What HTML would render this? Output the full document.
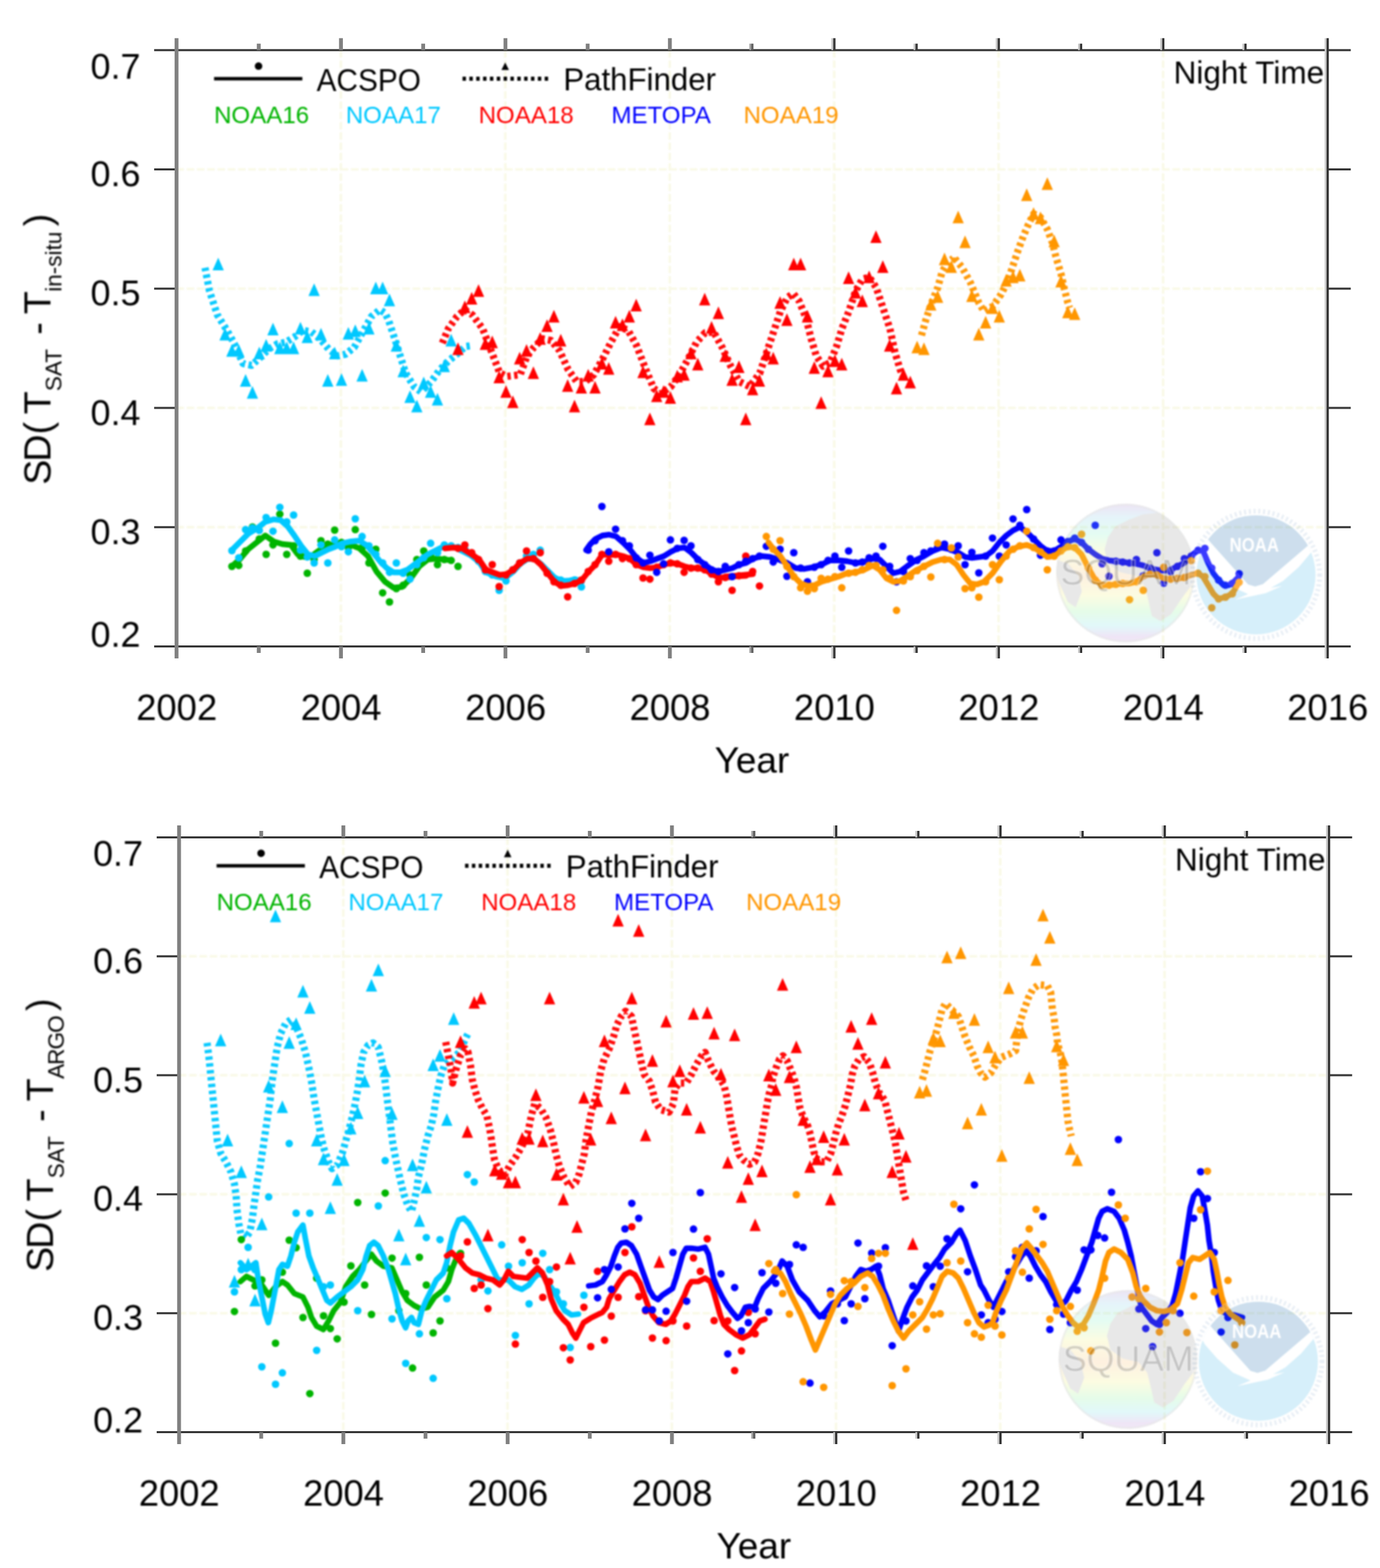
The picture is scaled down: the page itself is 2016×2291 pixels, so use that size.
<!DOCTYPE html>
<html lang="en">
<head>
<meta charset="utf-8">
<title>SD( T SAT - T in-situ ) Night Time: ACSPO vs PathFinder</title>
<style>
html,body{margin:0;padding:0;background:#fff;}
body{width:2016px;height:2291px;overflow:hidden;}
svg{display:block;}
</style>
</head>
<body>
<svg width="2016" height="2291" viewBox="0 0 2016 2291">
<defs><filter id="soft" x="0" y="0" width="100%" height="100%" filterUnits="userSpaceOnUse" color-interpolation-filters="sRGB"><feGaussianBlur stdDeviation="1.1"/></filter><filter id="soft2" x="0" y="0" width="100%" height="100%" filterUnits="userSpaceOnUse" color-interpolation-filters="sRGB"><feGaussianBlur stdDeviation="0.45"/></filter></defs>
<rect width="2016" height="2291" fill="#fff"/>
<g filter="url(#soft)">
<path d="M497.9 73.3 V944.4 M738.2 73.3 V944.4 M978.4 73.3 V944.4 M1218.6 73.3 V944.4 M1458.8 73.3 V944.4 M1699.1 73.3 V944.4 M257.7 247.5 H1939.3 M257.7 421.7 H1939.3 M257.7 596 H1939.3 M257.7 770.2 H1939.3" fill="none" stroke="#f9f9e6" stroke-width="3.6" stroke-dasharray="11 4"/>
<g fill="none" stroke-linejoin="round" stroke-linecap="butt">
<path d="M299.5 391.2 L306 425 L317.5 460 L331.5 482.5 L342.5 502.5 L355 531.2 L367.5 533.8 L380 522.5 L392.5 510 L405 502.5 L417.5 500 L430 492.5 L442.5 482.5 L455 485 L467.5 495 L480 510 L492.5 520 L505 517.5 L517.5 507.5 L530 485 L542.5 462.5 L555 452.5 L562.5 457.5 L567.5 467.5 L580 505 L592.5 545 L605 565 L615 572.5 L630 557.5 L642.5 540 L655 527.5 L667.5 517.5 L680 506.2 L688.8 505" stroke="#00c8ff" stroke-width="10.5" stroke-dasharray="5 5" stroke-opacity="0.96"/>
<path d="M646.2 501.2 L655 480 L667.5 462.5 L678.8 452.5 L690 460 L705 480 L717.5 512.5 L730 545 L740 550 L760 547.5 L770 520 L780 507.5 L792.5 495 L805 497.5 L817.5 512.5 L830 540 L842.5 557.5 L855 557.5 L867.5 547.5 L880 525 L892.5 500 L905 477.5 L917.5 482.5 L930 505 L942.5 537.5 L955 567.5 L965 575 L980 565 L992.5 547.5 L1005 525 L1017.5 500 L1030 486.2 L1042.5 485 L1055 507.5 L1067.5 535 L1080 557.5 L1095 565 L1110 545 L1120 515 L1130 485 L1140 455 L1150 435 L1158.8 428.8 L1167.5 440 L1177.5 465 L1185 495 L1192.5 520 L1202.5 535 L1212.5 530 L1222.5 505 L1230 480 L1240 455 L1250 425 L1260 407.5 L1270 405 L1280 420 L1290 450 L1300 480 L1307.5 515 L1315 540 L1321.2 555" stroke="#ff0000" stroke-width="10.5" stroke-dasharray="5 5" stroke-opacity="0.96"/>
<path d="M1346.2 490 L1352.5 467.5 L1360 445 L1370 420 L1376.2 397.5 L1385 382.5 L1392.5 377.5 L1392.5 375 L1405 390 L1417.5 412.5 L1430 442.5 L1437.5 455 L1450 447.5 L1462.5 430 L1472.5 410 L1480 387.5 L1487.5 365 L1495 345 L1502.5 327.5 L1510 312.5 L1520 317.5 L1530 335 L1537.5 355 L1542.5 375 L1550 400 L1555 422.5 L1560 442.5 L1562.5 450" stroke="#ff9600" stroke-width="10.5" stroke-dasharray="5 5" stroke-opacity="0.96"/>
</g>
<path d="M318.8 376.5 l8.2 18.5 h-16.5 z M328.8 479 l8.2 18.5 h-16.5 z M338.8 502.8 l8.2 18.5 h-16.5 z M348.8 502.8 l8.2 18.5 h-16.5 z M358.8 546.5 l8.2 18.5 h-16.5 z M368.8 564 l8.2 18.5 h-16.5 z M378.8 506.5 l8.2 18.5 h-16.5 z M388.8 495.2 l8.2 18.5 h-16.5 z M398.8 471.5 l8.2 18.5 h-16.5 z M408.8 499 l8.2 18.5 h-16.5 z M418.9 499 l8.2 18.5 h-16.5 z M428.9 499 l8.2 18.5 h-16.5 z M438.9 470.2 l8.2 18.5 h-16.5 z M448.9 482.8 l8.2 18.5 h-16.5 z M458.9 414 l8.2 18.5 h-16.5 z M468.9 479 l8.2 18.5 h-16.5 z M478.9 546.5 l8.2 18.5 h-16.5 z M488.9 506.5 l8.2 18.5 h-16.5 z M498.9 545.2 l8.2 18.5 h-16.5 z M508.9 477.8 l8.2 18.5 h-16.5 z M519 474 l8.2 18.5 h-16.5 z M529 539 l8.2 18.5 h-16.5 z M539 470.2 l8.2 18.5 h-16.5 z M549 411.5 l8.2 18.5 h-16.5 z M559 411.5 l8.2 18.5 h-16.5 z M569 429 l8.2 18.5 h-16.5 z M579 495.2 l8.2 18.5 h-16.5 z M589 532.8 l8.2 18.5 h-16.5 z M599 570.2 l8.2 18.5 h-16.5 z M609 584 l8.2 18.5 h-16.5 z M619 550.2 l8.2 18.5 h-16.5 z M629.1 562.8 l8.2 18.5 h-16.5 z M639.1 574 l8.2 18.5 h-16.5 z M649.1 525.2 l8.2 18.5 h-16.5 z M659.1 487.8 l8.2 18.5 h-16.5 z" fill="#00c8ff"/>
<path d="M669.1 500.2 l8.2 18.5 h-16.5 z M679.1 439 l8.2 18.5 h-16.5 z M689.1 426.5 l8.2 18.5 h-16.5 z M699.1 415.2 l8.2 18.5 h-16.5 z M709.1 492.8 l8.2 18.5 h-16.5 z M719.1 490.2 l8.2 18.5 h-16.5 z M729.2 541.5 l8.2 18.5 h-16.5 z M739.2 562.8 l8.2 18.5 h-16.5 z M749.2 577.8 l8.2 18.5 h-16.5 z M759.2 514 l8.2 18.5 h-16.5 z M769.2 502.8 l8.2 18.5 h-16.5 z M779.2 535.2 l8.2 18.5 h-16.5 z M789.2 485.2 l8.2 18.5 h-16.5 z M799.2 466.5 l8.2 18.5 h-16.5 z M809.2 452.8 l8.2 18.5 h-16.5 z M819.2 487.8 l8.2 18.5 h-16.5 z M829.3 554 l8.2 18.5 h-16.5 z M839.3 584 l8.2 18.5 h-16.5 z M849.3 556.5 l8.2 18.5 h-16.5 z M859.3 539 l8.2 18.5 h-16.5 z M869.3 556.5 l8.2 18.5 h-16.5 z M879.3 521.5 l8.2 18.5 h-16.5 z M889.3 529 l8.2 18.5 h-16.5 z M899.3 461.5 l8.2 18.5 h-16.5 z M909.3 465.2 l8.2 18.5 h-16.5 z M919.4 452.8 l8.2 18.5 h-16.5 z M929.4 436.5 l8.2 18.5 h-16.5 z M939.4 534 l8.2 18.5 h-16.5 z M949.4 602.8 l8.2 18.5 h-16.5 z M959.4 569 l8.2 18.5 h-16.5 z M969.4 562.8 l8.2 18.5 h-16.5 z M979.4 571.5 l8.2 18.5 h-16.5 z M989.4 540.2 l8.2 18.5 h-16.5 z M999.4 537.8 l8.2 18.5 h-16.5 z M1009.4 506.5 l8.2 18.5 h-16.5 z M1019.4 522.8 l8.2 18.5 h-16.5 z M1029.5 427.8 l8.2 18.5 h-16.5 z M1039.5 469 l8.2 18.5 h-16.5 z M1049.5 447.8 l8.2 18.5 h-16.5 z M1059.5 510.2 l8.2 18.5 h-16.5 z M1069.5 545.2 l8.2 18.5 h-16.5 z M1079.5 526.5 l8.2 18.5 h-16.5 z M1089.5 602.8 l8.2 18.5 h-16.5 z M1099.5 559 l8.2 18.5 h-16.5 z M1109.5 546.5 l8.2 18.5 h-16.5 z M1119.5 507.8 l8.2 18.5 h-16.5 z M1129.6 514 l8.2 18.5 h-16.5 z M1139.6 432.8 l8.2 18.5 h-16.5 z M1149.6 457.8 l8.2 18.5 h-16.5 z M1159.6 376.5 l8.2 18.5 h-16.5 z M1169.6 376.5 l8.2 18.5 h-16.5 z M1179.6 452.8 l8.2 18.5 h-16.5 z M1189.6 527.8 l8.2 18.5 h-16.5 z M1199.6 579 l8.2 18.5 h-16.5 z M1209.6 532.8 l8.2 18.5 h-16.5 z M1219.7 517.8 l8.2 18.5 h-16.5 z M1229.7 522.8 l8.2 18.5 h-16.5 z M1239.7 396.5 l8.2 18.5 h-16.5 z M1249.7 417.8 l8.2 18.5 h-16.5 z M1259.7 430.2 l8.2 18.5 h-16.5 z M1269.7 395.2 l8.2 18.5 h-16.5 z M1279.7 336.5 l8.2 18.5 h-16.5 z M1289.7 380.2 l8.2 18.5 h-16.5 z M1299.7 495.2 l8.2 18.5 h-16.5 z M1309.7 557.8 l8.2 18.5 h-16.5 z M1319.8 537.8 l8.2 18.5 h-16.5 z M1329.8 549 l8.2 18.5 h-16.5 z" fill="#ff0000"/>
<path d="M1339.8 497.8 l8.2 18.5 h-16.5 z M1349.8 500.2 l8.2 18.5 h-16.5 z M1359.8 435.2 l8.2 18.5 h-16.5 z M1369.8 424 l8.2 18.5 h-16.5 z M1379.8 369 l8.2 18.5 h-16.5 z M1389.8 380.2 l8.2 18.5 h-16.5 z M1399.8 307.8 l8.2 18.5 h-16.5 z M1409.8 344 l8.2 18.5 h-16.5 z M1419.8 422.8 l8.2 18.5 h-16.5 z M1429.9 479 l8.2 18.5 h-16.5 z M1439.9 461.5 l8.2 18.5 h-16.5 z M1449.9 440.2 l8.2 18.5 h-16.5 z M1459.9 452.8 l8.2 18.5 h-16.5 z M1469.9 400.2 l8.2 18.5 h-16.5 z M1479.9 395.2 l8.2 18.5 h-16.5 z M1489.9 392.8 l8.2 18.5 h-16.5 z M1499.9 275.2 l8.2 18.5 h-16.5 z M1509.9 302.8 l8.2 18.5 h-16.5 z M1520 309 l8.2 18.5 h-16.5 z M1530 259 l8.2 18.5 h-16.5 z M1540 342.8 l8.2 18.5 h-16.5 z M1550 401.5 l8.2 18.5 h-16.5 z M1560 446.5 l8.2 18.5 h-16.5 z M1570 449 l8.2 18.5 h-16.5 z" fill="#ff9600"/>
<path d="M338.8 827.5 L350 817.5 L362.5 802.5 L375 792.5 L387.5 782.5 L400 791.2 L412.5 795 L425 796.2 L435 810 L445 813.8 L455 812.5 L465 805 L475 798.8 L487.5 795 L500 793.8 L512.5 796.2 L525 801.2 L537.5 812.5 L550 835 L562.5 850 L575 858.8 L587.5 857.5 L600 845 L612.5 827.5 L625 817.5 L637.5 816.2 L650 817.5 L660 818.8" fill="none" stroke="#00b400" stroke-width="8.4" stroke-linejoin="round" stroke-linecap="round"/>
<g fill="#00b400"><circle cx="338.8" cy="827.5" r="5.5"/><circle cx="348.8" cy="826.2" r="5.5"/><circle cx="358.8" cy="805" r="5.5"/><circle cx="368.8" cy="770" r="5.5"/><circle cx="378.8" cy="787.5" r="5.5"/><circle cx="388.8" cy="810" r="5.5"/><circle cx="398.8" cy="796.2" r="5.5"/><circle cx="408.8" cy="751.2" r="5.5"/><circle cx="418.9" cy="810" r="5.5"/><circle cx="428.9" cy="797.5" r="5.5"/><circle cx="438.9" cy="812.5" r="5.5"/><circle cx="448.9" cy="837.5" r="5.5"/><circle cx="458.9" cy="817.5" r="5.5"/><circle cx="468.9" cy="790" r="5.5"/><circle cx="478.9" cy="795" r="5.5"/><circle cx="488.9" cy="774.5" r="5.5"/><circle cx="498.9" cy="792.5" r="5.5"/><circle cx="508.9" cy="800" r="5.5"/><circle cx="519" cy="773.8" r="5.5"/><circle cx="529" cy="800" r="5.5"/><circle cx="539" cy="822.5" r="5.5"/><circle cx="549" cy="802.5" r="5.5"/><circle cx="559" cy="866.2" r="5.5"/><circle cx="569" cy="879.5" r="5.5"/><circle cx="579" cy="860" r="5.5"/><circle cx="589" cy="855" r="5.5"/><circle cx="599" cy="840" r="5.5"/><circle cx="609" cy="817.5" r="5.5"/><circle cx="619" cy="805" r="5.5"/><circle cx="629.1" cy="812.5" r="5.5"/><circle cx="639.1" cy="825" r="5.5"/><circle cx="649.1" cy="817.5" r="5.5"/><circle cx="659.1" cy="818.8" r="5.5"/><circle cx="669.1" cy="827.5" r="5.5"/></g>
<path d="M340 802.5 L350 792.5 L362.5 780 L375 772.5 L387.5 762.5 L400 758.8 L410 760 L420 768.8 L430 782.5 L440 797.5 L450 810 L460 812.5 L470 807.5 L480 802.5 L490 798.8 L500 793.8 L512.5 791.2 L525 790 L535 796.2 L545 807.5 L555 820 L565 830 L575 836.2 L585 836.2 L595 832.5 L605 825 L615 817.5 L625 810 L635 805 L645 800 L655 798.8 L665 800 L675 805 L687.5 811.2 L700 821.2 L710 836.2 L725 842.5 L737.5 845 L750 835 L760 823.8 L770 817 L780 816.2 L790 823.8 L800 833.8 L810 843.8 L820 848.8 L830 848.8 L840 846.2 L850 850" fill="none" stroke="#00c8ff" stroke-width="8.4" stroke-linejoin="round" stroke-linecap="round"/>
<g fill="#00c8ff"><circle cx="338.8" cy="804.5" r="5.5"/><circle cx="348.8" cy="815" r="5.5"/><circle cx="358.8" cy="773.8" r="5.5"/><circle cx="368.8" cy="771.2" r="5.5"/><circle cx="378.8" cy="775" r="5.5"/><circle cx="388.8" cy="756.2" r="5.5"/><circle cx="398.8" cy="776.2" r="5.5"/><circle cx="408.8" cy="741.2" r="5.5"/><circle cx="418.9" cy="762.5" r="5.5"/><circle cx="428.9" cy="752.5" r="5.5"/><circle cx="438.9" cy="803.8" r="5.5"/><circle cx="448.9" cy="813.8" r="5.5"/><circle cx="458.9" cy="822.5" r="5.5"/><circle cx="468.9" cy="796.2" r="5.5"/><circle cx="478.9" cy="822.5" r="5.5"/><circle cx="488.9" cy="788.8" r="5.5"/><circle cx="498.9" cy="798.8" r="5.5"/><circle cx="508.9" cy="806.2" r="5.5"/><circle cx="519" cy="758" r="5.5"/><circle cx="529" cy="783.8" r="5.5"/><circle cx="539" cy="797.5" r="5.5"/><circle cx="549" cy="810" r="5.5"/><circle cx="559" cy="822.5" r="5.5"/><circle cx="569" cy="836.2" r="5.5"/><circle cx="579" cy="822.5" r="5.5"/><circle cx="589" cy="837.5" r="5.5"/><circle cx="599" cy="846.2" r="5.5"/><circle cx="609" cy="825" r="5.5"/><circle cx="619" cy="815" r="5.5"/><circle cx="629.1" cy="793.8" r="5.5"/><circle cx="639.1" cy="807.5" r="5.5"/><circle cx="649.1" cy="796.2" r="5.5"/><circle cx="659.1" cy="797.5" r="5.5"/><circle cx="669.1" cy="800" r="5.5"/><circle cx="679.1" cy="802.5" r="5.5"/><circle cx="689.1" cy="810" r="5.5"/><circle cx="699.1" cy="820" r="5.5"/><circle cx="709.1" cy="835" r="5.5"/><circle cx="719.1" cy="840" r="5.5"/><circle cx="729.2" cy="862.5" r="5.5"/><circle cx="739.2" cy="848.8" r="5.5"/><circle cx="749.2" cy="832.5" r="5.5"/><circle cx="759.2" cy="822.5" r="5.5"/><circle cx="769.2" cy="812.5" r="5.5"/><circle cx="779.2" cy="810" r="5.5"/><circle cx="789.2" cy="803.8" r="5.5"/><circle cx="799.2" cy="835" r="5.5"/><circle cx="809.2" cy="845" r="5.5"/><circle cx="819.2" cy="847.5" r="5.5"/><circle cx="829.3" cy="850" r="5.5"/><circle cx="839.3" cy="847.5" r="5.5"/><circle cx="849.3" cy="857.5" r="5.5"/></g>
<path d="M650 801.2 L662.5 800 L675 801.2 L687.5 808.8 L700 817.5 L710 832.5 L720 836.2 L730 840 L740 838.8 L750 832.5 L760 822.5 L770 816.2 L780 816.2 L790 825 L800 837.5 L810 850 L820 856.2 L830 855 L840 852.5 L850 847.5 L860 835 L870 825 L880 810 L890 811.2 L900 810 L910 812.5 L920 816.2 L930 825 L940 828.8 L950 830 L960 828.8 L970 825 L980 822.5 L990 823.8 L1000 827.5 L1010 830 L1020 830 L1030 832.5 L1040 838.8 L1050 843.8 L1060 843.8 L1070 842.5 L1080 841.2 L1090 841.2 L1060 842.5 L1075 841.2 L1087.5 840 L1100 838.8" fill="none" stroke="#ff0000" stroke-width="8.4" stroke-linejoin="round" stroke-linecap="round"/>
<g fill="#ff0000"><circle cx="669.1" cy="801.2" r="5.5"/><circle cx="679.1" cy="796.2" r="5.5"/><circle cx="689.1" cy="807.5" r="5.5"/><circle cx="699.1" cy="817.5" r="5.5"/><circle cx="709.1" cy="832.5" r="5.5"/><circle cx="719.1" cy="825" r="5.5"/><circle cx="729.2" cy="857" r="5.5"/><circle cx="739.2" cy="840" r="5.5"/><circle cx="749.2" cy="832.5" r="5.5"/><circle cx="759.2" cy="822.5" r="5.5"/><circle cx="769.2" cy="805" r="5.5"/><circle cx="779.2" cy="816.2" r="5.5"/><circle cx="789.2" cy="807.5" r="5.5"/><circle cx="799.2" cy="837.5" r="5.5"/><circle cx="809.2" cy="850" r="5.5"/><circle cx="819.2" cy="855" r="5.5"/><circle cx="829.3" cy="872" r="5.5"/><circle cx="839.3" cy="852.5" r="5.5"/><circle cx="849.3" cy="847.5" r="5.5"/><circle cx="859.3" cy="835" r="5.5"/><circle cx="869.3" cy="825" r="5.5"/><circle cx="879.3" cy="810" r="5.5"/><circle cx="889.3" cy="820" r="5.5"/><circle cx="899.3" cy="810" r="5.5"/><circle cx="909.3" cy="816.2" r="5.5"/><circle cx="919.4" cy="816.2" r="5.5"/><circle cx="929.4" cy="825" r="5.5"/><circle cx="939.4" cy="844.5" r="5.5"/><circle cx="949.4" cy="846.2" r="5.5"/><circle cx="959.4" cy="828.8" r="5.5"/><circle cx="969.4" cy="825" r="5.5"/><circle cx="979.4" cy="822.5" r="5.5"/><circle cx="989.4" cy="823.8" r="5.5"/><circle cx="999.4" cy="836.2" r="5.5"/><circle cx="1009.4" cy="830" r="5.5"/><circle cx="1019.4" cy="830" r="5.5"/><circle cx="1029.5" cy="832.5" r="5.5"/><circle cx="1039.5" cy="838.8" r="5.5"/><circle cx="1049.5" cy="850" r="5.5"/><circle cx="1059.5" cy="843.8" r="5.5"/><circle cx="1069.5" cy="862.5" r="5.5"/><circle cx="1079.5" cy="841.2" r="5.5"/><circle cx="1089.5" cy="812.5" r="5.5"/><circle cx="1099.5" cy="835" r="5.5"/><circle cx="1109.5" cy="856.2" r="5.5"/></g>
<path d="M856.2 803.8 L862.5 795 L870 787.5 L880 782.5 L890 781.2 L900 783.8 L910 792.5 L920 802.5 L930 815 L940 822.5 L950 820 L960 816.2 L970 812.5 L980 806.2 L990 801.2 L1000 800 L1010 807.5 L1020 817.5 L1030 825 L1040 832.5 L1050 835 L1060 832.5 L1070 830 L1080 825 L1090 822.5 L1100 816.2 L1112.5 812.5 L1125 813.8 L1137.5 817.5 L1150 822.5 L1162.5 830 L1175 831.2 L1187.5 828.8 L1200 825 L1212.5 818.8 L1225 818.8 L1237.5 820 L1250 822.5 L1262.5 821.2 L1275 816.2 L1285 817.5 L1295 827.5 L1305 837.5 L1315 835 L1325 827.5 L1337.5 818.8 L1350 812.5 L1362.5 805 L1375 800 L1387.5 802.5 L1400 807.5 L1410 813.8 L1420 815 L1430 813.8 L1440 812.5 L1450 805 L1460 792.5 L1470 782.5 L1480 775 L1490 770 L1500 777.5 L1510 787.5 L1520 797.5 L1530 805 L1540 805 L1550 798.8 L1560 791.2 L1570 787.5 L1580 792.5 L1590 802.5 L1600 810 L1610 816.2 L1620 818.8 L1630 820 L1640 821.2 L1650 822.5 L1660 823.8 L1670 826.2 L1680 830 L1690 832.5 L1700 833.8 L1710 832.5 L1720 827.5 L1730 822.5 L1740 812.5 L1750 803.8 L1757.5 805 L1765 822.5 L1772.5 837.5 L1780 847.5 L1787.5 855 L1795 855 L1802.5 850 L1810 842.5" fill="none" stroke="#0000ff" stroke-width="8.4" stroke-linejoin="round" stroke-linecap="round"/>
<g fill="#0000ff"><circle cx="859.3" cy="803.8" r="5.5"/><circle cx="869.3" cy="790" r="5.5"/><circle cx="879.3" cy="740" r="5.5"/><circle cx="889.3" cy="806.2" r="5.5"/><circle cx="899.3" cy="773.2" r="5.5"/><circle cx="909.3" cy="790" r="5.5"/><circle cx="919.4" cy="797.5" r="5.5"/><circle cx="929.4" cy="815" r="5.5"/><circle cx="939.4" cy="822.5" r="5.5"/><circle cx="949.4" cy="811.2" r="5.5"/><circle cx="959.4" cy="836.2" r="5.5"/><circle cx="969.4" cy="823.8" r="5.5"/><circle cx="979.4" cy="788.8" r="5.5"/><circle cx="989.4" cy="801.2" r="5.5"/><circle cx="999.4" cy="789.5" r="5.5"/><circle cx="1009.4" cy="797.5" r="5.5"/><circle cx="1019.4" cy="817.5" r="5.5"/><circle cx="1029.5" cy="825" r="5.5"/><circle cx="1039.5" cy="832.5" r="5.5"/><circle cx="1049.5" cy="835" r="5.5"/><circle cx="1059.5" cy="827.5" r="5.5"/><circle cx="1069.5" cy="842.5" r="5.5"/><circle cx="1079.5" cy="825" r="5.5"/><circle cx="1089.5" cy="820" r="5.5"/><circle cx="1099.5" cy="816.2" r="5.5"/><circle cx="1109.5" cy="812.5" r="5.5"/><circle cx="1119.5" cy="798.2" r="5.5"/><circle cx="1129.6" cy="821.2" r="5.5"/><circle cx="1139.6" cy="802.5" r="5.5"/><circle cx="1149.6" cy="842" r="5.5"/><circle cx="1159.6" cy="807.5" r="5.5"/><circle cx="1169.6" cy="830" r="5.5"/><circle cx="1179.6" cy="850" r="5.5"/><circle cx="1189.6" cy="828.8" r="5.5"/><circle cx="1199.6" cy="825" r="5.5"/><circle cx="1209.6" cy="818.8" r="5.5"/><circle cx="1219.7" cy="812.5" r="5.5"/><circle cx="1229.7" cy="828.8" r="5.5"/><circle cx="1239.7" cy="805" r="5.5"/><circle cx="1249.7" cy="822.5" r="5.5"/><circle cx="1259.7" cy="821.2" r="5.5"/><circle cx="1269.7" cy="815" r="5.5"/><circle cx="1279.7" cy="812.5" r="5.5"/><circle cx="1289.7" cy="798.2" r="5.5"/><circle cx="1299.7" cy="827.5" r="5.5"/><circle cx="1309.7" cy="850" r="5.5"/><circle cx="1319.8" cy="835" r="5.5"/><circle cx="1329.8" cy="816.2" r="5.5"/><circle cx="1339.8" cy="818.8" r="5.5"/><circle cx="1349.8" cy="807.5" r="5.5"/><circle cx="1359.8" cy="805" r="5.5"/><circle cx="1369.8" cy="800" r="5.5"/><circle cx="1379.8" cy="795" r="5.5"/><circle cx="1389.8" cy="802.5" r="5.5"/><circle cx="1399.8" cy="797.5" r="5.5"/><circle cx="1409.8" cy="825" r="5.5"/><circle cx="1419.8" cy="807" r="5.5"/><circle cx="1429.9" cy="837" r="5.5"/><circle cx="1439.9" cy="812.5" r="5.5"/><circle cx="1449.9" cy="786.2" r="5.5"/><circle cx="1459.9" cy="812.5" r="5.5"/><circle cx="1469.9" cy="796.2" r="5.5"/><circle cx="1479.9" cy="758.2" r="5.5"/><circle cx="1489.9" cy="767.5" r="5.5"/><circle cx="1499.9" cy="744.5" r="5.5"/><circle cx="1509.9" cy="787.5" r="5.5"/><circle cx="1520" cy="811.2" r="5.5"/><circle cx="1530" cy="805" r="5.5"/><circle cx="1540" cy="805" r="5.5"/><circle cx="1550" cy="788.8" r="5.5"/><circle cx="1560" cy="791.2" r="5.5"/><circle cx="1570" cy="786.2" r="5.5"/><circle cx="1580" cy="792.5" r="5.5"/><circle cx="1590" cy="802.5" r="5.5"/><circle cx="1600" cy="767.5" r="5.5"/><circle cx="1610" cy="823.8" r="5.5"/><circle cx="1620" cy="842" r="5.5"/><circle cx="1630.1" cy="820" r="5.5"/><circle cx="1640.1" cy="821.2" r="5.5"/><circle cx="1650.1" cy="822.5" r="5.5"/><circle cx="1660.1" cy="817.5" r="5.5"/><circle cx="1670.1" cy="841.2" r="5.5"/><circle cx="1680.1" cy="830" r="5.5"/><circle cx="1690.1" cy="807.5" r="5.5"/><circle cx="1700.1" cy="852" r="5.5"/><circle cx="1710.1" cy="835" r="5.5"/><circle cx="1720.1" cy="827.5" r="5.5"/><circle cx="1730.2" cy="816.2" r="5.5"/><circle cx="1740.2" cy="812.5" r="5.5"/><circle cx="1750.2" cy="803.8" r="5.5"/><circle cx="1760.2" cy="801.2" r="5.5"/><circle cx="1770.2" cy="830" r="5.5"/><circle cx="1780.2" cy="847.5" r="5.5"/><circle cx="1790.2" cy="855" r="5.5"/><circle cx="1800.2" cy="852.5" r="5.5"/><circle cx="1810.2" cy="838.2" r="5.5"/></g>
<path d="M1122.5 792.5 L1130 802.5 L1140 812.5 L1150 827.5 L1160 842.5 L1170 852.5 L1180 856.2 L1190 855 L1200 850 L1212.5 846.2 L1225 842.5 L1237.5 837.5 L1250 836.2 L1262.5 832.5 L1275 826.2 L1285 832.5 L1295 845 L1305 850 L1315 848.8 L1325 842.5 L1337.5 833.8 L1350 827.5 L1362.5 821.2 L1375 817.5 L1387.5 817.5 L1397.5 825 L1407.5 840 L1417.5 852.5 L1427.5 853.8 L1437.5 850 L1450 837.5 L1462.5 820 L1475 805 L1487.5 798.8 L1500 796.2 L1510 800 L1520 806.2 L1530 813.8 L1540 812.5 L1550 805 L1560 798.8 L1570 800 L1580 810 L1590 830 L1600 847.5 L1610 855 L1620 855 L1630 853.8 L1640 852.5 L1650 852.5 L1660 850 L1670 842.5 L1680 838.8 L1690 840 L1700 845 L1710 846.2 L1720 845 L1730 843.8 L1740 840 L1750 837.5 L1757.5 842.5 L1765 855 L1772.5 867.5 L1780 875 L1790 872.5 L1800 867.5 L1807.5 855" fill="none" stroke="#ff9600" stroke-width="8.4" stroke-linejoin="round" stroke-linecap="round"/>
<g fill="#ff9600"><circle cx="1119.5" cy="783.8" r="5.5"/><circle cx="1129.6" cy="802.5" r="5.5"/><circle cx="1139.6" cy="790" r="5.5"/><circle cx="1149.6" cy="827.5" r="5.5"/><circle cx="1159.6" cy="842.5" r="5.5"/><circle cx="1169.6" cy="858.8" r="5.5"/><circle cx="1179.6" cy="863.8" r="5.5"/><circle cx="1189.6" cy="860" r="5.5"/><circle cx="1199.6" cy="845" r="5.5"/><circle cx="1209.6" cy="846.2" r="5.5"/><circle cx="1219.7" cy="842.5" r="5.5"/><circle cx="1229.7" cy="858.8" r="5.5"/><circle cx="1239.7" cy="837.5" r="5.5"/><circle cx="1249.7" cy="836.2" r="5.5"/><circle cx="1259.7" cy="832.5" r="5.5"/><circle cx="1269.7" cy="826.2" r="5.5"/><circle cx="1279.7" cy="826.2" r="5.5"/><circle cx="1289.7" cy="832.5" r="5.5"/><circle cx="1299.7" cy="845" r="5.5"/><circle cx="1309.7" cy="891.8" r="5.5"/><circle cx="1319.8" cy="848.8" r="5.5"/><circle cx="1329.8" cy="842.5" r="5.5"/><circle cx="1339.8" cy="833.8" r="5.5"/><circle cx="1349.8" cy="827.5" r="5.5"/><circle cx="1359.8" cy="843" r="5.5"/><circle cx="1369.8" cy="793.8" r="5.5"/><circle cx="1379.8" cy="817.5" r="5.5"/><circle cx="1389.8" cy="800.5" r="5.5"/><circle cx="1399.8" cy="813.8" r="5.5"/><circle cx="1409.8" cy="860" r="5.5"/><circle cx="1419.8" cy="858.8" r="5.5"/><circle cx="1429.9" cy="872.5" r="5.5"/><circle cx="1439.9" cy="850" r="5.5"/><circle cx="1449.9" cy="825" r="5.5"/><circle cx="1459.9" cy="847" r="5.5"/><circle cx="1469.9" cy="812.5" r="5.5"/><circle cx="1479.9" cy="802.5" r="5.5"/><circle cx="1489.9" cy="797.5" r="5.5"/><circle cx="1499.9" cy="776.2" r="5.5"/><circle cx="1509.9" cy="800" r="5.5"/><circle cx="1520" cy="806.2" r="5.5"/><circle cx="1530" cy="832.5" r="5.5"/><circle cx="1540" cy="812.5" r="5.5"/><circle cx="1550" cy="805" r="5.5"/><circle cx="1560" cy="798.8" r="5.5"/><circle cx="1570" cy="800" r="5.5"/><circle cx="1580" cy="780.5" r="5.5"/><circle cx="1590" cy="830" r="5.5"/><circle cx="1600" cy="847.5" r="5.5"/><circle cx="1610" cy="855" r="5.5"/><circle cx="1620" cy="855" r="5.5"/><circle cx="1630.1" cy="853.8" r="5.5"/><circle cx="1640.1" cy="852.5" r="5.5"/><circle cx="1650.1" cy="876.2" r="5.5"/><circle cx="1660.1" cy="850" r="5.5"/><circle cx="1670.1" cy="862.5" r="5.5"/><circle cx="1680.1" cy="838.8" r="5.5"/><circle cx="1690.1" cy="840" r="5.5"/><circle cx="1700.1" cy="828.8" r="5.5"/><circle cx="1710.1" cy="846.2" r="5.5"/><circle cx="1720.1" cy="845" r="5.5"/><circle cx="1730.2" cy="843.8" r="5.5"/><circle cx="1740.2" cy="819.2" r="5.5"/><circle cx="1750.2" cy="837.5" r="5.5"/><circle cx="1760.2" cy="842.5" r="5.5"/><circle cx="1770.2" cy="888" r="5.5"/><circle cx="1780.2" cy="875" r="5.5"/><circle cx="1790.2" cy="872.5" r="5.5"/><circle cx="1800.2" cy="867.5" r="5.5"/><circle cx="1810.2" cy="850.8" r="5.5"/></g>
<defs><linearGradient id="gla" x1="0" y1="0" x2="0" y2="1"><stop offset="0" stop-color="#b08ad0"/><stop offset="0.1" stop-color="#8fd0e8"/><stop offset="0.22" stop-color="#8cf0c8"/><stop offset="0.36" stop-color="#f0f080"/><stop offset="0.52" stop-color="#f8c078"/><stop offset="0.66" stop-color="#f0f080"/><stop offset="0.78" stop-color="#90f0a0"/><stop offset="0.88" stop-color="#80e0e8"/><stop offset="0.96" stop-color="#b890d8"/><stop offset="1" stop-color="#c098d8"/></linearGradient><clipPath id="gca"><circle cx="1644.3" cy="837.3" r="101"/></clipPath></defs>
<g opacity="0.23">
<circle cx="1644.3" cy="837.3" r="101" fill="url(#gla)"/>
<g clip-path="url(#gca)" fill="#9a9a9a">
<path d="M1618.7 784.9 L1629 769.5 L1649.4 759.3 L1669.9 751.6 L1695.4 749.1 L1721 759.3 L1741.5 787.4 L1747.9 823.2 L1741.5 853.9 L1726.1 874.4 L1710.8 897.4 L1695.4 907.6 L1682.7 899.9 L1677.5 876.9 L1672.4 856.5 L1659.6 841.1 L1636.6 836 L1618.7 823.2 L1613.6 802.8z"/>
<path d="M1543.3 818.1 L1559.9 823.2 L1575.3 841.1 L1580.4 864.1 L1571.4 887.2 L1559.9 879.5 L1548.4 853.9 L1542 836z"/>
</g>
<circle cx="1644.3" cy="837.3" r="100" fill="none" stroke="#999" stroke-width="3" opacity="0.6"/>
</g>
<text x="1549.3" y="854.3" font-family='"Liberation Sans", Arial, Helvetica, sans-serif' font-size="52" fill="#000" fill-opacity="0.17" stroke="#fff" stroke-opacity="0.4" stroke-width="2" paint-order="stroke">SQUAM</text>
<defs><clipPath id="nca"><circle cx="1834.8" cy="839.9" r="87"/></clipPath></defs>
<g opacity="0.23">
<circle cx="1834.8" cy="839.9" r="98" fill="#fff"/>
<circle cx="1834.8" cy="839.9" r="93" fill="none" stroke="#5a86b4" stroke-width="7" stroke-dasharray="3 4" opacity="0.6"/>
<circle cx="1834.8" cy="839.9" r="87" fill="#4fbbe7"/>
<g clip-path="url(#nca)">
<path d="M1741.5 761.9 L1759.4 782.4 L1823.3 854 L1833.5 857 L1845 853.5 L1910.2 797.7 L1935.8 772.1 L1935.8 736.3 L1741.5 736.3z" fill="#2773b3"/>
<path d="M1741.5 761.9 L1759.4 782.4 L1823.3 854 L1833.5 857 L1845 853.5 L1910.2 797.7 L1935.8 772.1 L1935.8 784.9 L1919.2 802.8 L1897.4 828.4 L1874.4 848.8 L1856.5 859.1 L1873.2 856 L1848.9 866.7 L1804.1 876.2 L1823.3 868 L1797.7 856.5 L1774.7 836.1 L1756.8 815.6 L1745.3 795.2 L1738.9 777.3z" fill="#fff"/>
</g>
</g>
<text x="1832.3" y="806.4" font-family='"Liberation Sans", Arial, Helvetica, sans-serif' font-size="29" font-weight="bold" fill="#fff" text-anchor="middle" textLength="72" lengthAdjust="spacingAndGlyphs">NOAA</text>
<g font-family='"Liberation Sans", Arial, Helvetica, sans-serif' fill="#000">
<text x="205.2" y="114.8" font-size="52.5" text-anchor="end">0.7</text>
<text x="205.2" y="272" font-size="52.5" text-anchor="end">0.6</text>
<text x="205.2" y="446.2" font-size="52.5" text-anchor="end">0.5</text>
<text x="205.2" y="620.5" font-size="52.5" text-anchor="end">0.4</text>
<text x="205.2" y="794.7" font-size="52.5" text-anchor="end">0.3</text>
<text x="205.2" y="944.7" font-size="52.5" text-anchor="end">0.2</text>
<text x="258.1" y="1051.9" font-size="53.2" text-anchor="middle">2002</text>
<text x="498.3" y="1051.9" font-size="53.2" text-anchor="middle">2004</text>
<text x="738.6" y="1051.9" font-size="53.2" text-anchor="middle">2006</text>
<text x="978.8" y="1051.9" font-size="53.2" text-anchor="middle">2008</text>
<text x="1219" y="1051.9" font-size="53.2" text-anchor="middle">2010</text>
<text x="1459.2" y="1051.9" font-size="53.2" text-anchor="middle">2012</text>
<text x="1699.5" y="1051.9" font-size="53.2" text-anchor="middle">2014</text>
<text x="1939.7" y="1051.9" font-size="53.2" text-anchor="middle">2016</text>
<text x="1098.5" y="1128.7" font-size="54" text-anchor="middle">Year</text>
<text transform="translate(73.7 708.3) rotate(-90)" font-size="55">S<tspan dx="-3">D</tspan>(<tspan dx="-3"> T</tspan><tspan font-size="33" dy="16">SAT</tspan><tspan dy="-16" dx="5.7"> -</tspan><tspan dx="-2.7"> T</tspan><tspan font-size="33" dy="16" dx="-1">in-situ</tspan><tspan dy="-16" dx="-7.5"> )</tspan></text>
<text x="462.5" y="132.7" font-size="47" textLength="152.5" lengthAdjust="spacingAndGlyphs">ACSPO</text>
<text x="822.9" y="132.1" font-size="45.6">PathFinder</text>
<text x="1934.3" y="121.9" font-size="46" text-anchor="end">Night Time</text>
<text x="312.7" y="179.6" font-size="35.2" fill="#00b400">NOAA16</text>
<text x="505.2" y="179.6" font-size="35.2" fill="#00c8ff">NOAA17</text>
<text x="699.2" y="179.6" font-size="35.2" fill="#ff0000">NOAA18</text>
<text x="893.2" y="179.6" font-size="35.2" fill="#0000ff">METOPA</text>
<text x="1086.2" y="179.6" font-size="35.2" fill="#ff9600">NOAA19</text>
</g>
<path d="M312.7 114.9 H441.7" stroke="#000" stroke-width="5" fill="none"/>
<circle cx="377.7" cy="96.6" r="5.5" fill="#000"/>
<path d="M675.7 114.9 H800.7" stroke="#000" stroke-width="6" stroke-dasharray="5 5" fill="none"/>
<path d="M738 91.3 l5.5 11 h-11 z" fill="#000"/>
<path d="M501.4 1223.4 V2092.5 M741.4 1223.4 V2092.5 M981.4 1223.4 V2092.5 M1221.3 1223.4 V2092.5 M1461.3 1223.4 V2092.5 M1701.3 1223.4 V2092.5 M261.4 1397.2 H1941.3 M261.4 1571 H1941.3 M261.4 1744.9 H1941.3 M261.4 1918.7 H1941.3" fill="none" stroke="#f9f9e6" stroke-width="3.6" stroke-dasharray="11 4"/>
<g fill="none" stroke-linejoin="round" stroke-linecap="butt">
<path d="M302.5 1523.8 L305 1542.5 L307.5 1567.5 L310 1592.5 L312.5 1617.5 L315 1642.5 L317.5 1667.5 L322.5 1685 L330 1697.5 L337.5 1712.5 L342.5 1730 L345 1747.5 L346.2 1767.5 L348.8 1787.5 L352 1803.8 L358.8 1808.8 L365 1800 L368.8 1780 L371.2 1760 L373.8 1742.5 L376.2 1725 L380 1705 L383.8 1680 L387.5 1655 L391.2 1630 L395 1605 L397.5 1580 L401.2 1555 L405 1530 L410 1510 L417.5 1495 L425 1490 L432.5 1500 L440 1517.5 L446.2 1537.5 L451.2 1560 L455 1580 L458.8 1605 L462.5 1625 L466.2 1645 L470 1665 L473.8 1680 L480 1697.5 L485 1707.5 L492.5 1702.5 L500 1685 L505 1667.5 L510 1650 L515 1630 L518.8 1612.5 L522.5 1592.5 L525 1575 L527.5 1555 L531.2 1537.5 L537.5 1527.5 L545 1523.8 L552.5 1530 L557.5 1550 L561.2 1570 L563.8 1590 L566.2 1610 L568.8 1630 L571.2 1650 L573.8 1670 L577.5 1690 L581.2 1707.5 L585 1725 L590 1745 L596.2 1762.5 L601.2 1770 L605 1755 L608.8 1737.5 L611.2 1720 L616.2 1700 L620 1680 L625 1660 L630 1645 L633.8 1627.5 L636.2 1610 L640 1590 L643.8 1572.5 L648.8 1557.5 L660 1547.5 L671.2 1537.5 L680 1517.5 L685 1507.5" stroke="#00c8ff" stroke-width="10.5" stroke-dasharray="5 5" stroke-opacity="0.96"/>
<path d="M651.2 1522.5 L655 1542.5 L658.8 1562.5 L661.2 1582.5 L666.2 1562.5 L672.5 1542.5 L680 1532.5 L683.8 1537.5 L687.5 1557.5 L690 1577.5 L693.8 1592.5 L698.8 1607.5 L705 1620 L711.2 1630 L715 1647.5 L717.5 1662.5 L720 1680 L722.5 1695 L728.8 1710 L737.5 1716.2 L745 1702.5 L753.8 1690 L762.5 1675 L771.2 1655 L776.2 1630 L781.2 1612.5 L790 1620 L797.5 1632.5 L803.8 1650 L808.8 1670 L812.5 1687.5 L817.5 1705 L823.8 1720 L832.5 1733.8 L841.2 1727.5 L846.2 1715 L850 1700 L853.8 1685 L856.2 1665 L860 1645 L863.8 1625 L868.8 1607.5 L873.8 1587.5 L877.5 1565 L882.5 1547.5 L890 1532.5 L896.2 1515 L901.2 1497.5 L907.5 1485 L913.8 1477.5 L922.5 1485 L926.2 1502.5 L930 1520 L933.8 1537.5 L937.5 1555 L941.2 1570 L948.8 1580 L953.8 1595 L957.5 1610 L965 1621.2 L977.5 1625 L983.8 1612.5 L986.2 1590 L992.5 1582.5 L1002.5 1582.5 L1010 1570 L1017.5 1555 L1025 1542.5 L1030 1537.5 L1035 1550 L1042.5 1565 L1052.5 1577.5 L1057.5 1585 L1061.2 1600 L1063.8 1615 L1066.2 1630 L1068.8 1645 L1072.5 1660 L1076.2 1675 L1080 1687.5 L1086.2 1695 L1095 1701.2 L1102.5 1697.5 L1107.5 1685 L1111.2 1670 L1113.8 1655 L1116.2 1640 L1118.8 1625 L1121.2 1610 L1123.8 1597.5 L1127.5 1585 L1128.8 1575 L1133.8 1560 L1138.8 1547.5 L1143.8 1542.5 L1150 1550 L1155 1562.5 L1160 1575 L1163.8 1590 L1166.2 1605 L1168.8 1620 L1173.8 1632.5 L1180 1645 L1183.8 1657.5 L1186.2 1670 L1188.8 1682.5 L1192.5 1692.5 L1200 1697.5 L1207.5 1697.5 L1213.8 1685 L1217.5 1670 L1221.2 1655 L1225 1642.5 L1230 1630 L1235 1615 L1238.8 1600 L1242.5 1585 L1245 1570 L1248.8 1557.5 L1255 1547.5 L1262.5 1543.8 L1270 1552.5 L1275 1567.5 L1278.8 1582.5 L1285 1597.5 L1292.5 1607.5 L1296.2 1622.5 L1300 1637.5 L1303.8 1652.5 L1307.5 1667.5 L1310 1682.5 L1312.5 1697.5 L1315 1712.5 L1317.5 1727.5 L1320 1742.5 L1323.8 1755" stroke="#ff0000" stroke-width="10.5" stroke-dasharray="5 5" stroke-opacity="0.96"/>
<path d="M1347.5 1577.5 L1351.2 1565 L1355 1550 L1358.8 1535 L1363.8 1520 L1368.8 1505 L1372.5 1490 L1376.2 1475 L1381.2 1466.2 L1390 1475 L1400 1485 L1405 1500 L1410 1515 L1416.2 1530 L1422.5 1542.5 L1427.5 1557.5 L1432.5 1567.5 L1438.8 1573.8 L1447.5 1567.5 L1455 1555 L1462.5 1545 L1475 1540 L1483.8 1535 L1485 1522.5 L1487.5 1505 L1491.2 1490 L1496.2 1475 L1502.5 1457.5 L1508.8 1445 L1517.5 1438.8 L1530 1440 L1535 1450 L1536.2 1462.5 L1537.5 1475 L1540 1487.5 L1541.2 1500 L1543.8 1512.5 L1545 1525 L1548.8 1537.5 L1551.2 1550 L1552.5 1562.5 L1553.8 1575 L1555 1587.5 L1556.2 1600 L1557.5 1612.5 L1558.8 1625 L1560 1637.5 L1562.5 1650 L1565 1660" stroke="#ff9600" stroke-width="10.5" stroke-dasharray="5 5" stroke-opacity="0.96"/>
</g>
<path d="M322.4 1510.2 l8.2 18.5 h-16.5 z M332.5 1656.5 l8.2 18.5 h-16.5 z M392.5 1577.8 l8.2 18.5 h-16.5 z M402.5 1329 l8.2 18.5 h-16.5 z M412.5 1607.8 l8.2 18.5 h-16.5 z M422.5 1514 l8.2 18.5 h-16.5 z M432.6 1486.5 l8.2 18.5 h-16.5 z M442.6 1439 l8.2 18.5 h-16.5 z M452.6 1462.8 l8.2 18.5 h-16.5 z M462.6 1656.5 l8.2 18.5 h-16.5 z M512.6 1639 l8.2 18.5 h-16.5 z M522.6 1616.5 l8.2 18.5 h-16.5 z M532.7 1570.2 l8.2 18.5 h-16.5 z M542.7 1430.2 l8.2 18.5 h-16.5 z M552.7 1407.8 l8.2 18.5 h-16.5 z M562.7 1555.2 l8.2 18.5 h-16.5 z M572.7 1617.8 l8.2 18.5 h-16.5 z M632.8 1546.5 l8.2 18.5 h-16.5 z M642.8 1532.8 l8.2 18.5 h-16.5 z M652.8 1626.5 l8.2 18.5 h-16.5 z M662.8 1479 l8.2 18.5 h-16.5 z M342.5 1862.8 l8.2 18.5 h-16.5 z M352.5 1702.8 l8.2 18.5 h-16.5 z M362.5 1837.8 l8.2 18.5 h-16.5 z M372.5 1890.2 l8.2 18.5 h-16.5 z M382.5 1779 l8.2 18.5 h-16.5 z M472.6 1684 l8.2 18.5 h-16.5 z M482.6 1755.2 l8.2 18.5 h-16.5 z M492.6 1714 l8.2 18.5 h-16.5 z M502.6 1685.2 l8.2 18.5 h-16.5 z M582.7 1795.2 l8.2 18.5 h-16.5 z M592.7 1830.2 l8.2 18.5 h-16.5 z M602.7 1692.8 l8.2 18.5 h-16.5 z M612.7 1774 l8.2 18.5 h-16.5 z M622.8 1725.2 l8.2 18.5 h-16.5 z" fill="#00c8ff"/>
<path d="M672.8 1512.8 l8.2 18.5 h-16.5 z M682.8 1644 l8.2 18.5 h-16.5 z M692.8 1455.2 l8.2 18.5 h-16.5 z M702.8 1449 l8.2 18.5 h-16.5 z M762.9 1654 l8.2 18.5 h-16.5 z M772.9 1654 l8.2 18.5 h-16.5 z M782.9 1590.2 l8.2 18.5 h-16.5 z M792.9 1657.8 l8.2 18.5 h-16.5 z M802.9 1449 l8.2 18.5 h-16.5 z M853 1594 l8.2 18.5 h-16.5 z M863 1655.2 l8.2 18.5 h-16.5 z M873 1599 l8.2 18.5 h-16.5 z M883 1511.5 l8.2 18.5 h-16.5 z M893 1624 l8.2 18.5 h-16.5 z M903 1335.2 l8.2 18.5 h-16.5 z M913 1580.2 l8.2 18.5 h-16.5 z M923 1449 l8.2 18.5 h-16.5 z M933.1 1350.2 l8.2 18.5 h-16.5 z M943.1 1649 l8.2 18.5 h-16.5 z M953.1 1540.2 l8.2 18.5 h-16.5 z M973.1 1482.8 l8.2 18.5 h-16.5 z M983.1 1570.2 l8.2 18.5 h-16.5 z M993.1 1555.2 l8.2 18.5 h-16.5 z M1003.1 1611.5 l8.2 18.5 h-16.5 z M1013.1 1471.5 l8.2 18.5 h-16.5 z M1023.1 1637.8 l8.2 18.5 h-16.5 z M1033.2 1470.2 l8.2 18.5 h-16.5 z M1043.2 1500.2 l8.2 18.5 h-16.5 z M1053.2 1560.2 l8.2 18.5 h-16.5 z M1073.2 1502.8 l8.2 18.5 h-16.5 z M1123.2 1561.5 l8.2 18.5 h-16.5 z M1133.3 1582.8 l8.2 18.5 h-16.5 z M1143.3 1429 l8.2 18.5 h-16.5 z M1153.3 1564 l8.2 18.5 h-16.5 z M1163.3 1520.2 l8.2 18.5 h-16.5 z M1173.3 1626.5 l8.2 18.5 h-16.5 z M1203.3 1651.5 l8.2 18.5 h-16.5 z M1233.4 1655.2 l8.2 18.5 h-16.5 z M1243.4 1490.2 l8.2 18.5 h-16.5 z M1253.4 1515.2 l8.2 18.5 h-16.5 z M1263.4 1605.2 l8.2 18.5 h-16.5 z M1273.4 1479 l8.2 18.5 h-16.5 z M1283.4 1587.8 l8.2 18.5 h-16.5 z M1293.4 1542.8 l8.2 18.5 h-16.5 z M1313.4 1646.5 l8.2 18.5 h-16.5 z M712.8 1795.2 l8.2 18.5 h-16.5 z M722.8 1700.2 l8.2 18.5 h-16.5 z M732.9 1705.2 l8.2 18.5 h-16.5 z M742.9 1717.8 l8.2 18.5 h-16.5 z M752.9 1717.8 l8.2 18.5 h-16.5 z M812.9 1706.5 l8.2 18.5 h-16.5 z M823 1742.8 l8.2 18.5 h-16.5 z M833 1829 l8.2 18.5 h-16.5 z M843 1782.8 l8.2 18.5 h-16.5 z M963.1 1834 l8.2 18.5 h-16.5 z M1063.2 1689 l8.2 18.5 h-16.5 z M1083.2 1739 l8.2 18.5 h-16.5 z M1093.2 1712.8 l8.2 18.5 h-16.5 z M1103.2 1780.2 l8.2 18.5 h-16.5 z M1113.2 1701.5 l8.2 18.5 h-16.5 z M1183.3 1695.2 l8.2 18.5 h-16.5 z M1193.3 1684 l8.2 18.5 h-16.5 z M1213.3 1742.8 l8.2 18.5 h-16.5 z M1223.3 1699 l8.2 18.5 h-16.5 z M1303.4 1702.8 l8.2 18.5 h-16.5 z M1323.5 1680.2 l8.2 18.5 h-16.5 z M1333.5 1807.8 l8.2 18.5 h-16.5 z" fill="#ff0000"/>
<path d="M1343.5 1586.5 l8.2 18.5 h-16.5 z M1353.5 1584 l8.2 18.5 h-16.5 z M1363.5 1507.8 l8.2 18.5 h-16.5 z M1373.5 1511.5 l8.2 18.5 h-16.5 z M1383.5 1389 l8.2 18.5 h-16.5 z M1393.5 1470.2 l8.2 18.5 h-16.5 z M1403.5 1382.8 l8.2 18.5 h-16.5 z M1413.5 1631.5 l8.2 18.5 h-16.5 z M1423.5 1480.2 l8.2 18.5 h-16.5 z M1433.6 1611.5 l8.2 18.5 h-16.5 z M1443.6 1520.2 l8.2 18.5 h-16.5 z M1453.6 1535.2 l8.2 18.5 h-16.5 z M1463.6 1679 l8.2 18.5 h-16.5 z M1473.6 1434 l8.2 18.5 h-16.5 z M1483.6 1499 l8.2 18.5 h-16.5 z M1493.6 1499 l8.2 18.5 h-16.5 z M1503.6 1565.2 l8.2 18.5 h-16.5 z M1513.6 1392.8 l8.2 18.5 h-16.5 z M1523.7 1327.8 l8.2 18.5 h-16.5 z M1533.7 1360.2 l8.2 18.5 h-16.5 z M1543.7 1519 l8.2 18.5 h-16.5 z M1553.7 1539 l8.2 18.5 h-16.5 z M1563.7 1669 l8.2 18.5 h-16.5 z M1573.7 1685.2 l8.2 18.5 h-16.5 z" fill="#ff9600"/>
<path d="M351.2 1872.5 L360 1865 L370 1870 L382.5 1877.5 L392.5 1892.5 L402.5 1880 L412.5 1872.5 L420 1877.5 L430 1890 L442.5 1895 L450 1910 L455 1925 L462.5 1937.5 L472.5 1942.5 L480 1930 L487.5 1915 L497.5 1902.5 L505 1880 L515 1865 L525 1855 L532.5 1845 L542.5 1832.5 L550 1842.5 L560 1850 L572.5 1852.5 L580 1870 L587.5 1887.5 L595 1900 L605 1907.5 L615 1912.5 L625 1910 L635 1895 L647.5 1885 L655 1872.5 L660 1855 L665 1842.5 L670 1832.5" fill="none" stroke="#00b400" stroke-width="8.2" stroke-linejoin="round" stroke-linecap="round"/>
<g fill="#00b400"><circle cx="342.5" cy="1916.2" r="5.5"/><circle cx="352.5" cy="1811.2" r="5.5"/><circle cx="372.5" cy="1878.8" r="5.5"/><circle cx="382.5" cy="1870" r="5.5"/><circle cx="402.5" cy="1962.5" r="5.5"/><circle cx="412.5" cy="1858.8" r="5.5"/><circle cx="422.5" cy="1812" r="5.5"/><circle cx="432.6" cy="1823" r="5.5"/><circle cx="442.6" cy="1925" r="5.5"/><circle cx="452.6" cy="2036.2" r="5.5"/><circle cx="462.6" cy="1867.5" r="5.5"/><circle cx="472.6" cy="1922.5" r="5.5"/><circle cx="482.6" cy="1941.2" r="5.5"/><circle cx="492.6" cy="1956.2" r="5.5"/><circle cx="502.6" cy="1902.5" r="5.5"/><circle cx="512.6" cy="1849.5" r="5.5"/><circle cx="522.6" cy="1757" r="5.5"/><circle cx="532.7" cy="1877.5" r="5.5"/><circle cx="542.7" cy="1920.5" r="5.5"/><circle cx="562.7" cy="1743.2" r="5.5"/><circle cx="572.7" cy="1838.2" r="5.5"/><circle cx="582.7" cy="1915" r="5.5"/><circle cx="592.7" cy="1890" r="5.5"/><circle cx="602.7" cy="1998.8" r="5.5"/><circle cx="612.7" cy="1837" r="5.5"/><circle cx="622.8" cy="1877.5" r="5.5"/><circle cx="632.8" cy="1947.5" r="5.5"/><circle cx="642.8" cy="1930" r="5.5"/><circle cx="652.8" cy="1852.5" r="5.5"/><circle cx="672.8" cy="1831.2" r="5.5"/></g>
<path d="M351.2 1845 L360 1855 L367.5 1850 L373.8 1845 L377.5 1870 L382.5 1895 L387.5 1920 L392 1932.5 L396.2 1915 L400 1895 L403.8 1875 L407.5 1855 L412.5 1847.5 L420 1850 L425 1835 L430 1815 L435 1800 L442.5 1790 L446.2 1810 L451.2 1835 L457.5 1852.5 L465 1870 L471.2 1885 L477.5 1900 L482.5 1903.8 L492.5 1895 L502.5 1887.5 L512.5 1880 L522.5 1870 L530 1855 L535 1835 L540 1820 L546.2 1815 L552.5 1820 L560 1835 L567.5 1855 L572.5 1872.5 L577.5 1890 L582.5 1912.5 L587.5 1930 L592.5 1940 L596.2 1930 L601.2 1925 L605 1932.5 L611.2 1935 L616.2 1915 L622.5 1900 L630 1885 L637.5 1870 L647.5 1860 L652.5 1845 L657.5 1820 L662.5 1800 L670 1782.5 L677.5 1780 L685 1787.5 L695 1805 L705 1825 L712.5 1840 L720 1855 L727.5 1870 L742.5 1870 L752.5 1880 L762.5 1883.8 L772.5 1877.5 L780 1867.5 L787.5 1860 L795 1865 L802.5 1877.5 L810 1887.5 L817.5 1902.5 L825 1915 L835 1921.2 L845 1920" fill="none" stroke="#00c8ff" stroke-width="8.2" stroke-linejoin="round" stroke-linecap="round"/>
<g fill="#00c8ff"><circle cx="342.5" cy="1887.5" r="5.5"/><circle cx="352.5" cy="1855" r="5.5"/><circle cx="362.5" cy="1822.5" r="5.5"/><circle cx="372.5" cy="1855" r="5.5"/><circle cx="382.5" cy="1997" r="5.5"/><circle cx="392.5" cy="1748.8" r="5.5"/><circle cx="402.5" cy="2022.5" r="5.5"/><circle cx="412.5" cy="2005.8" r="5.5"/><circle cx="422.5" cy="1670.8" r="5.5"/><circle cx="432.6" cy="1772.5" r="5.5"/><circle cx="452.6" cy="1772.5" r="5.5"/><circle cx="462.6" cy="1973" r="5.5"/><circle cx="472.6" cy="1880" r="5.5"/><circle cx="482.6" cy="1877.5" r="5.5"/><circle cx="522.6" cy="1915" r="5.5"/><circle cx="552.7" cy="1762" r="5.5"/><circle cx="562.7" cy="1695.8" r="5.5"/><circle cx="572.7" cy="1927" r="5.5"/><circle cx="592.7" cy="1992" r="5.5"/><circle cx="612.7" cy="1948.8" r="5.5"/><circle cx="622.8" cy="1808.2" r="5.5"/><circle cx="632.8" cy="2013.8" r="5.5"/><circle cx="642.8" cy="1811.2" r="5.5"/><circle cx="652.8" cy="1897.5" r="5.5"/><circle cx="682.8" cy="1716.2" r="5.5"/><circle cx="692.8" cy="1727" r="5.5"/><circle cx="702.8" cy="1870" r="5.5"/><circle cx="712.8" cy="1886.2" r="5.5"/><circle cx="732.9" cy="1818.8" r="5.5"/><circle cx="742.9" cy="1850" r="5.5"/><circle cx="752.9" cy="1951.2" r="5.5"/><circle cx="762.9" cy="1845" r="5.5"/><circle cx="772.9" cy="1905" r="5.5"/><circle cx="792.9" cy="1831.2" r="5.5"/><circle cx="802.9" cy="1855" r="5.5"/><circle cx="812.9" cy="1887.5" r="5.5"/><circle cx="823" cy="1905" r="5.5"/><circle cx="833" cy="1968.8" r="5.5"/><circle cx="853" cy="1892.5" r="5.5"/></g>
<path d="M652.5 1835 L660 1830 L670 1840 L680 1852.5 L690 1860 L700 1862.5 L710 1867.5 L720 1870 L730 1877.5 L736.2 1870 L742.5 1857.5 L750 1865 L760 1866.2 L770 1867.5 L777.5 1860 L785 1852.5 L792.5 1860 L800 1877.5 L805 1897.5 L812.5 1915 L822.5 1927.5 L830 1935 L836.2 1947.5 L841.2 1955 L846.2 1945 L852.5 1932.5 L862.5 1926.2 L872.5 1921.2 L880 1917.5 L886.2 1910 L890 1897.5 L897.5 1885 L905 1872.5 L912.5 1862.5 L920 1858.8 L927.5 1862.5 L935 1875 L941.2 1892.5 L947.5 1910 L953.8 1922.5 L962.5 1932.5 L972.5 1935 L980 1930 L986.2 1920 L992.5 1907.5 L1000 1892.5 L1005 1880 L1010 1872.5 L1020 1872.5 L1030 1867.5 L1037.5 1872.5 L1042.5 1887.5 L1047.5 1905 L1052.5 1922.5 L1057.5 1935 L1065 1942.5 L1075 1950 L1085 1955 L1095 1950 L1102.5 1940 L1110 1930 L1117.5 1927.5" fill="none" stroke="#ff0000" stroke-width="8.2" stroke-linejoin="round" stroke-linecap="round"/>
<g fill="#ff0000"><circle cx="672.8" cy="1835" r="5.5"/><circle cx="682.8" cy="1814.5" r="5.5"/><circle cx="692.8" cy="1882.5" r="5.5"/><circle cx="702.8" cy="1877.5" r="5.5"/><circle cx="712.8" cy="1912" r="5.5"/><circle cx="752.9" cy="1963.8" r="5.5"/><circle cx="762.9" cy="1811.2" r="5.5"/><circle cx="772.9" cy="1830" r="5.5"/><circle cx="782.9" cy="1842.5" r="5.5"/><circle cx="792.9" cy="1895.5" r="5.5"/><circle cx="802.9" cy="1872.5" r="5.5"/><circle cx="812.9" cy="1851.2" r="5.5"/><circle cx="823" cy="1969.2" r="5.5"/><circle cx="833" cy="1987" r="5.5"/><circle cx="853" cy="1910" r="5.5"/><circle cx="863" cy="1967.5" r="5.5"/><circle cx="873" cy="1857.5" r="5.5"/><circle cx="883" cy="1958" r="5.5"/><circle cx="893" cy="1923" r="5.5"/><circle cx="903" cy="1895.5" r="5.5"/><circle cx="913" cy="1830" r="5.5"/><circle cx="923" cy="1792.5" r="5.5"/><circle cx="933.1" cy="1894.5" r="5.5"/><circle cx="943.1" cy="1915" r="5.5"/><circle cx="953.1" cy="1955" r="5.5"/><circle cx="973.1" cy="1958.8" r="5.5"/><circle cx="983.1" cy="1930" r="5.5"/><circle cx="1003.1" cy="1937.5" r="5.5"/><circle cx="1013.1" cy="1838" r="5.5"/><circle cx="1023.1" cy="1857.5" r="5.5"/><circle cx="1033.2" cy="1810" r="5.5"/><circle cx="1043.2" cy="1929.5" r="5.5"/><circle cx="1063.2" cy="1930" r="5.5"/><circle cx="1073.2" cy="2002.5" r="5.5"/><circle cx="1083.2" cy="1973.8" r="5.5"/><circle cx="1093.2" cy="1917.5" r="5.5"/><circle cx="1103.2" cy="1948.8" r="5.5"/></g>
<path d="M860 1878.8 L870 1877.5 L880 1872.5 L886.2 1862.5 L892.5 1850 L897.5 1835 L902.5 1822.5 L907.5 1816.2 L915 1815 L922.5 1820 L930 1832.5 L936.2 1850 L942.5 1867.5 L948.8 1885 L955 1895 L961.2 1898.8 L967.5 1892.5 L975 1887.5 L982.5 1882.5 L987.5 1867.5 L992.5 1850 L997.5 1832.5 L1002.5 1823.8 L1010 1823.8 L1020 1825 L1030 1822.5 L1035 1832.5 L1038.8 1850 L1042.5 1867.5 L1047.5 1880 L1055 1895 L1062.5 1907.5 L1070 1917.5 L1077.5 1926.2 L1082.5 1922.5 L1088.8 1910 L1095 1908.8 L1102.5 1910 L1107.5 1897.5 L1115 1882.5 L1125 1872.5 L1135 1860 L1142.5 1842.5 L1150 1850 L1157.5 1870 L1167.5 1887.5 L1180 1900 L1190 1915 L1197.5 1923.8 L1205 1917.5 L1215 1905 L1225 1900 L1235 1895 L1242.5 1880 L1250 1865 L1257.5 1855 L1265 1857.5 L1272.5 1855 L1280 1850 L1285 1862.5 L1290 1882.5 L1297.5 1900 L1305 1922.5 L1312.5 1945 L1317.5 1930 L1325 1910 L1332.5 1895 L1340 1885 L1347.5 1870 L1355 1860 L1362.5 1850 L1372.5 1837.5 L1380 1825 L1390 1815 L1397.5 1802.5 L1402.5 1797.5 L1410 1812.5 L1417.5 1835 L1425 1855 L1432.5 1877.5 L1437.5 1885 L1445 1900 L1451.2 1910 L1456.2 1900 L1462.5 1887.5 L1470 1872.5 L1477.5 1860 L1485 1847.5 L1492.5 1835 L1498.8 1827.5 L1505 1835 L1512.5 1850 L1520 1862.5 L1527.5 1872.5 L1535 1887.5 L1542.5 1900 L1550 1907.5 L1557.5 1900 L1565 1885 L1572.5 1872.5 L1580 1855 L1587.5 1835 L1595 1815 L1600 1797.5 L1605 1780 L1610 1770 L1617.5 1766.2 L1627.5 1770 L1635 1780 L1642.5 1797.5 L1647.5 1815 L1652.5 1835 L1656.2 1855 L1660 1875 L1663.8 1895 L1667.5 1910 L1675 1920 L1682.5 1930 L1690 1935 L1697.5 1925 L1705 1917.5 L1712.5 1907.5 L1717.5 1890 L1722.5 1865 L1727.5 1840 L1731.2 1815 L1735 1790 L1738.8 1765 L1743.8 1747.5 L1750 1740 L1756.2 1747.5 L1760 1767.5 L1763.8 1790 L1766.2 1812.5 L1770 1835 L1772.5 1857.5 L1776.2 1880 L1780 1900 L1785 1915 L1792.5 1920 L1802.5 1921.2 L1815 1925" fill="none" stroke="#0000ff" stroke-width="8.2" stroke-linejoin="round" stroke-linecap="round"/>
<g fill="#0000ff"><circle cx="873" cy="1896.2" r="5.5"/><circle cx="883" cy="1855" r="5.5"/><circle cx="893" cy="1883.8" r="5.5"/><circle cx="903" cy="1851.2" r="5.5"/><circle cx="913" cy="1795.5" r="5.5"/><circle cx="923" cy="1758.2" r="5.5"/><circle cx="933.1" cy="1780" r="5.5"/><circle cx="943.1" cy="1913.8" r="5.5"/><circle cx="953.1" cy="1913.8" r="5.5"/><circle cx="963.1" cy="1930" r="5.5"/><circle cx="973.1" cy="1915.8" r="5.5"/><circle cx="983.1" cy="1830" r="5.5"/><circle cx="1003.1" cy="1901.2" r="5.5"/><circle cx="1013.1" cy="1795.8" r="5.5"/><circle cx="1023.1" cy="1742.5" r="5.5"/><circle cx="1053.2" cy="1861.2" r="5.5"/><circle cx="1063.2" cy="1978.2" r="5.5"/><circle cx="1073.2" cy="1881.2" r="5.5"/><circle cx="1083.2" cy="1944.5" r="5.5"/><circle cx="1093.2" cy="1932.5" r="5.5"/><circle cx="1103.2" cy="1912.5" r="5.5"/><circle cx="1113.2" cy="1859.5" r="5.5"/><circle cx="1123.2" cy="1917" r="5.5"/><circle cx="1133.3" cy="1875" r="5.5"/><circle cx="1153.3" cy="1847.5" r="5.5"/><circle cx="1163.3" cy="1818.8" r="5.5"/><circle cx="1173.3" cy="1822.5" r="5.5"/><circle cx="1183.3" cy="2020.8" r="5.5"/><circle cx="1203.3" cy="1922.5" r="5.5"/><circle cx="1213.3" cy="1886.2" r="5.5"/><circle cx="1223.3" cy="1905" r="5.5"/><circle cx="1233.4" cy="1929.5" r="5.5"/><circle cx="1243.4" cy="1905" r="5.5"/><circle cx="1253.4" cy="1816.2" r="5.5"/><circle cx="1263.4" cy="1897.5" r="5.5"/><circle cx="1273.4" cy="1830.8" r="5.5"/><circle cx="1283.4" cy="1850" r="5.5"/><circle cx="1293.4" cy="1823" r="5.5"/><circle cx="1303.4" cy="1966.2" r="5.5"/><circle cx="1323.5" cy="1930" r="5.5"/><circle cx="1333.5" cy="1878.8" r="5.5"/><circle cx="1353.5" cy="1849.5" r="5.5"/><circle cx="1363.5" cy="1880" r="5.5"/><circle cx="1373.5" cy="1850" r="5.5"/><circle cx="1383.5" cy="1810" r="5.5"/><circle cx="1403.5" cy="1766.2" r="5.5"/><circle cx="1413.5" cy="1858.2" r="5.5"/><circle cx="1423.5" cy="1731.2" r="5.5"/><circle cx="1433.6" cy="1921.2" r="5.5"/><circle cx="1443.6" cy="1932.5" r="5.5"/><circle cx="1453.6" cy="1927.5" r="5.5"/><circle cx="1463.6" cy="1916.2" r="5.5"/><circle cx="1473.6" cy="1858.2" r="5.5"/><circle cx="1483.6" cy="1836.2" r="5.5"/><circle cx="1493.6" cy="1822.5" r="5.5"/><circle cx="1503.6" cy="1867.5" r="5.5"/><circle cx="1513.6" cy="1827.5" r="5.5"/><circle cx="1523.7" cy="1777.5" r="5.5"/><circle cx="1533.7" cy="1942.5" r="5.5"/><circle cx="1543.7" cy="1906.2" r="5.5"/><circle cx="1553.7" cy="1920" r="5.5"/><circle cx="1563.7" cy="1932.5" r="5.5"/><circle cx="1573.7" cy="1885" r="5.5"/><circle cx="1583.7" cy="1826.2" r="5.5"/><circle cx="1593.7" cy="1826.2" r="5.5"/><circle cx="1603.7" cy="1805" r="5.5"/><circle cx="1613.7" cy="1808.8" r="5.5"/><circle cx="1623.8" cy="1742" r="5.5"/><circle cx="1633.8" cy="1665" r="5.5"/><circle cx="1663.8" cy="1912.5" r="5.5"/><circle cx="1673.8" cy="1941.2" r="5.5"/><circle cx="1683.8" cy="1967.5" r="5.5"/><circle cx="1693.8" cy="1935" r="5.5"/><circle cx="1723.8" cy="1918.8" r="5.5"/><circle cx="1743.9" cy="1780" r="5.5"/><circle cx="1753.9" cy="1712" r="5.5"/><circle cx="1763.9" cy="1751.2" r="5.5"/><circle cx="1773.9" cy="1830" r="5.5"/><circle cx="1783.9" cy="1946.2" r="5.5"/><circle cx="1793.9" cy="1925" r="5.5"/></g>
<path d="M1130 1857.5 L1140 1860 L1147.5 1872.5 L1155 1890 L1162.5 1905 L1170 1920 L1177.5 1937.5 L1185 1957.5 L1191.2 1972.5 L1197.5 1957.5 L1205 1940 L1212.5 1922.5 L1220 1905 L1227.5 1892.5 L1237.5 1882.5 L1247.5 1875 L1257.5 1865 L1267.5 1860 L1275 1865 L1282.5 1877.5 L1290 1892.5 L1297.5 1912.5 L1305 1930 L1312.5 1945 L1320 1955 L1327.5 1945 L1337.5 1935 L1347.5 1925 L1355 1912.5 L1362.5 1897.5 L1370 1880 L1376.2 1865 L1383.8 1857.5 L1392.5 1860 L1400 1867.5 L1407.5 1882.5 L1415 1900 L1422.5 1917.5 L1430 1932.5 L1437.5 1938.8 L1445 1936.2 L1450 1932.5 L1455 1917.5 L1462.5 1900 L1470 1885 L1477.5 1865 L1485 1845 L1492.5 1825 L1500 1816.2 L1507.5 1825 L1515 1835 L1522.5 1845 L1530 1857.5 L1537.5 1875 L1545 1892.5 L1552.5 1910 L1560 1922.5 L1567.5 1932.5 L1575 1938.8 L1582.5 1935 L1590 1922.5 L1597.5 1905 L1605 1885 L1610 1865 L1615 1842.5 L1620 1830 L1627.5 1825 L1637.5 1830 L1647.5 1840 L1655 1860 L1660 1880 L1665 1892.5 L1670 1900 L1680 1910 L1690 1915 L1700 1916.2 L1710 1913.8 L1720 1905 L1726.2 1885 L1731.2 1865 L1736.2 1845 L1742.5 1837.5 L1752.5 1840 L1760 1835 L1767.5 1830 L1773.8 1840 L1777.5 1857.5 L1781.2 1877.5 L1785 1895 L1790 1910 L1797.5 1920 L1805 1925 L1812.5 1930" fill="none" stroke="#ff9600" stroke-width="8.2" stroke-linejoin="round" stroke-linecap="round"/>
<g fill="#ff9600"><circle cx="1123.2" cy="1846.2" r="5.5"/><circle cx="1133.3" cy="1855" r="5.5"/><circle cx="1143.3" cy="1890" r="5.5"/><circle cx="1153.3" cy="1920" r="5.5"/><circle cx="1163.3" cy="1745.5" r="5.5"/><circle cx="1173.3" cy="2018.8" r="5.5"/><circle cx="1203.3" cy="2027" r="5.5"/><circle cx="1213.3" cy="1891.2" r="5.5"/><circle cx="1233.4" cy="1871.2" r="5.5"/><circle cx="1243.4" cy="1872.5" r="5.5"/><circle cx="1253.4" cy="1908.8" r="5.5"/><circle cx="1263.4" cy="1881.2" r="5.5"/><circle cx="1273.4" cy="1838.8" r="5.5"/><circle cx="1283.4" cy="1831.2" r="5.5"/><circle cx="1293.4" cy="1831.2" r="5.5"/><circle cx="1303.4" cy="2024.5" r="5.5"/><circle cx="1323.5" cy="2000" r="5.5"/><circle cx="1333.5" cy="1921.2" r="5.5"/><circle cx="1343.5" cy="1902" r="5.5"/><circle cx="1353.5" cy="1942" r="5.5"/><circle cx="1363.5" cy="1921.2" r="5.5"/><circle cx="1373.5" cy="1919.5" r="5.5"/><circle cx="1383.5" cy="1845" r="5.5"/><circle cx="1393.5" cy="1759.5" r="5.5"/><circle cx="1403.5" cy="1842.5" r="5.5"/><circle cx="1413.5" cy="1932.5" r="5.5"/><circle cx="1423.5" cy="1948.8" r="5.5"/><circle cx="1433.6" cy="1953.8" r="5.5"/><circle cx="1443.6" cy="1907" r="5.5"/><circle cx="1453.6" cy="1937.5" r="5.5"/><circle cx="1463.6" cy="1950.5" r="5.5"/><circle cx="1473.6" cy="1867.5" r="5.5"/><circle cx="1483.6" cy="1827.5" r="5.5"/><circle cx="1493.6" cy="1858.8" r="5.5"/><circle cx="1503.6" cy="1795.5" r="5.5"/><circle cx="1513.6" cy="1767" r="5.5"/><circle cx="1523.7" cy="1818.2" r="5.5"/><circle cx="1533.7" cy="1927.5" r="5.5"/><circle cx="1543.7" cy="1915" r="5.5"/><circle cx="1563.7" cy="1908.8" r="5.5"/><circle cx="1573.7" cy="1945" r="5.5"/><circle cx="1583.7" cy="1940" r="5.5"/><circle cx="1593.7" cy="1973.8" r="5.5"/><circle cx="1613.7" cy="1867.5" r="5.5"/><circle cx="1633.8" cy="1760.5" r="5.5"/><circle cx="1643.8" cy="1780" r="5.5"/><circle cx="1653.8" cy="1895" r="5.5"/><circle cx="1663.8" cy="1897.5" r="5.5"/><circle cx="1673.8" cy="1882.5" r="5.5"/><circle cx="1693.8" cy="1946.2" r="5.5"/><circle cx="1703.8" cy="1932.5" r="5.5"/><circle cx="1713.8" cy="1915" r="5.5"/><circle cx="1723.8" cy="1845" r="5.5"/><circle cx="1733.9" cy="1947" r="5.5"/><circle cx="1743.9" cy="1893.8" r="5.5"/><circle cx="1753.9" cy="1767.5" r="5.5"/><circle cx="1763.9" cy="1711.2" r="5.5"/><circle cx="1773.9" cy="1887.5" r="5.5"/><circle cx="1783.9" cy="1915" r="5.5"/><circle cx="1793.9" cy="1870.8" r="5.5"/><circle cx="1803.9" cy="1965" r="5.5"/><circle cx="1813.9" cy="1932.5" r="5.5"/></g>
<defs><linearGradient id="glb" x1="0" y1="0" x2="0" y2="1"><stop offset="0" stop-color="#b08ad0"/><stop offset="0.1" stop-color="#8fd0e8"/><stop offset="0.22" stop-color="#8cf0c8"/><stop offset="0.36" stop-color="#f0f080"/><stop offset="0.52" stop-color="#f8c078"/><stop offset="0.66" stop-color="#f0f080"/><stop offset="0.78" stop-color="#90f0a0"/><stop offset="0.88" stop-color="#80e0e8"/><stop offset="0.96" stop-color="#b890d8"/><stop offset="1" stop-color="#c098d8"/></linearGradient><clipPath id="gcb"><circle cx="1647.8" cy="1986.3" r="101"/></clipPath></defs>
<g opacity="0.23">
<circle cx="1647.8" cy="1986.3" r="101" fill="url(#glb)"/>
<g clip-path="url(#gcb)" fill="#9a9a9a">
<path d="M1622.2 1933.9 L1632.5 1918.5 L1652.9 1908.3 L1673.4 1900.6 L1698.9 1898.1 L1724.5 1908.3 L1745 1936.4 L1751.4 1972.2 L1745 2002.9 L1729.6 2023.4 L1714.3 2046.4 L1698.9 2056.6 L1686.2 2048.9 L1681 2025.9 L1675.9 2005.5 L1663.1 1990.1 L1640.1 1985 L1622.2 1972.2 L1617.1 1951.8z"/>
<path d="M1546.8 1967.1 L1563.4 1972.2 L1578.8 1990.1 L1583.9 2013.1 L1574.9 2036.2 L1563.4 2028.5 L1551.9 2002.9 L1545.5 1985z"/>
</g>
<circle cx="1647.8" cy="1986.3" r="100" fill="none" stroke="#999" stroke-width="3" opacity="0.6"/>
</g>
<text x="1552.8" y="2003.3" font-family='"Liberation Sans", Arial, Helvetica, sans-serif' font-size="52" fill="#000" fill-opacity="0.17" stroke="#fff" stroke-opacity="0.4" stroke-width="2" paint-order="stroke">SQUAM</text>
<defs><clipPath id="ncb"><circle cx="1838.3" cy="1988.9" r="87"/></clipPath></defs>
<g opacity="0.23">
<circle cx="1838.3" cy="1988.9" r="98" fill="#fff"/>
<circle cx="1838.3" cy="1988.9" r="93" fill="none" stroke="#5a86b4" stroke-width="7" stroke-dasharray="3 4" opacity="0.6"/>
<circle cx="1838.3" cy="1988.9" r="87" fill="#4fbbe7"/>
<g clip-path="url(#ncb)">
<path d="M1745 1910.9 L1762.9 1931.4 L1826.8 2003 L1837 2006 L1848.5 2002.5 L1913.7 1946.7 L1939.3 1921.1 L1939.3 1885.3 L1745 1885.3z" fill="#2773b3"/>
<path d="M1745 1910.9 L1762.9 1931.4 L1826.8 2003 L1837 2006 L1848.5 2002.5 L1913.7 1946.7 L1939.3 1921.1 L1939.3 1933.9 L1922.7 1951.8 L1900.9 1977.4 L1877.9 1997.8 L1860 2008.1 L1876.7 2005 L1852.4 2015.7 L1807.6 2025.2 L1826.8 2017 L1801.2 2005.5 L1778.2 1985.1 L1760.3 1964.6 L1748.8 1944.2 L1742.4 1926.3z" fill="#fff"/>
</g>
</g>
<text x="1835.8" y="1955.4" font-family='"Liberation Sans", Arial, Helvetica, sans-serif' font-size="29" font-weight="bold" fill="#fff" text-anchor="middle" textLength="72" lengthAdjust="spacingAndGlyphs">NOAA</text>
<g font-family='"Liberation Sans", Arial, Helvetica, sans-serif' fill="#000">
<text x="208.9" y="1264.9" font-size="52.5" text-anchor="end">0.7</text>
<text x="208.9" y="1421.7" font-size="52.5" text-anchor="end">0.6</text>
<text x="208.9" y="1595.5" font-size="52.5" text-anchor="end">0.5</text>
<text x="208.9" y="1769.4" font-size="52.5" text-anchor="end">0.4</text>
<text x="208.9" y="1943.2" font-size="52.5" text-anchor="end">0.3</text>
<text x="208.9" y="2092.8" font-size="52.5" text-anchor="end">0.2</text>
<text x="261.8" y="2200" font-size="53.2" text-anchor="middle">2002</text>
<text x="501.8" y="2200" font-size="53.2" text-anchor="middle">2004</text>
<text x="741.8" y="2200" font-size="53.2" text-anchor="middle">2006</text>
<text x="981.8" y="2200" font-size="53.2" text-anchor="middle">2008</text>
<text x="1221.7" y="2200" font-size="53.2" text-anchor="middle">2010</text>
<text x="1461.7" y="2200" font-size="53.2" text-anchor="middle">2012</text>
<text x="1701.7" y="2200" font-size="53.2" text-anchor="middle">2014</text>
<text x="1941.7" y="2200" font-size="53.2" text-anchor="middle">2016</text>
<text x="1101.3" y="2276.8" font-size="54" text-anchor="middle">Year</text>
<text transform="translate(77.4 1858.4) rotate(-90)" font-size="55">S<tspan dx="-3">D</tspan>(<tspan dx="-3"> T</tspan><tspan font-size="33" dy="16">SAT</tspan><tspan dy="-16" dx="5.7"> -</tspan><tspan dx="-2.7"> T</tspan><tspan font-size="33" dy="16" dx="-1" letter-spacing="-1.4">ARGO</tspan><tspan dy="-16" dx="-7.5"> )</tspan></text>
<text x="466.2" y="1282.8" font-size="47" textLength="152.5" lengthAdjust="spacingAndGlyphs">ACSPO</text>
<text x="826.6" y="1282.2" font-size="45.6">PathFinder</text>
<text x="1936.3" y="1272" font-size="46" text-anchor="end">Night Time</text>
<text x="316.4" y="1329.7" font-size="35.2" fill="#00b400">NOAA16</text>
<text x="508.9" y="1329.7" font-size="35.2" fill="#00c8ff">NOAA17</text>
<text x="702.9" y="1329.7" font-size="35.2" fill="#ff0000">NOAA18</text>
<text x="896.9" y="1329.7" font-size="35.2" fill="#0000ff">METOPA</text>
<text x="1089.9" y="1329.7" font-size="35.2" fill="#ff9600">NOAA19</text>
</g>
<path d="M316.4 1265 H445.4" stroke="#000" stroke-width="5" fill="none"/>
<circle cx="381.4" cy="1246.7" r="5.5" fill="#000"/>
<path d="M679.4 1265 H804.4" stroke="#000" stroke-width="6" stroke-dasharray="5 5" fill="none"/>
<path d="M741.7 1241.4 l5.5 11 h-11 z" fill="#000"/>
</g>
<g filter="url(#soft2)">
<path d="M225.2 73.3 H1973.3 M225.2 944.4 H1973.3 M225.2 247.5 H257.7 M1939.3 247.5 H1973.3 M225.2 421.7 H257.7 M1939.3 421.7 H1973.3 M225.2 596 H257.7 M1939.3 596 H1973.3 M225.2 770.2 H257.7 M1939.3 770.2 H1973.3" fill="none" stroke="#363636" stroke-width="3"/>
<path d="M257.9 55.8 V961.9" fill="none" stroke="#808080" stroke-width="5.6"/>
<path d="M378 63.8 V73.3 M378 944.4 V953.9" fill="none" stroke="#808080" stroke-width="5.6"/>
<path d="M498.1 55.8 V73.3 M498.1 944.4 V961.9" fill="none" stroke="#808080" stroke-width="5.6"/>
<path d="M618.2 63.8 V73.3 M618.2 944.4 V953.9" fill="none" stroke="#808080" stroke-width="5.6"/>
<path d="M738.4 55.8 V73.3 M738.4 944.4 V961.9" fill="none" stroke="#808080" stroke-width="5.6"/>
<path d="M858.5 63.8 V73.3 M858.5 944.4 V953.9" fill="none" stroke="#808080" stroke-width="5.6"/>
<path d="M978.6 55.8 V73.3 M978.6 944.4 V961.9" fill="none" stroke="#808080" stroke-width="5.6"/>
<path d="M1096.1 63.8 V73.3 M1096.1 944.4 V953.9" fill="none" stroke="#a2a2a2" stroke-width="2.8"/>
<path d="M1099 63.8 V73.3 M1099 944.4 V953.9" fill="none" stroke="#5c5c5c" stroke-width="3.3"/>
<path d="M1215.9 55.8 V73.3 M1215.9 944.4 V961.9" fill="none" stroke="#c8c8c8" stroke-width="2.8"/>
<path d="M1218.9 55.8 V73.3 M1218.9 944.4 V961.9" fill="none" stroke="#343434" stroke-width="3.3"/>
<path d="M1336 63.8 V73.3 M1336 944.4 V953.9" fill="none" stroke="#c8c8c8" stroke-width="2.8"/>
<path d="M1339 63.8 V73.3 M1339 944.4 V953.9" fill="none" stroke="#343434" stroke-width="3.3"/>
<path d="M1456.1 55.8 V73.3 M1456.1 944.4 V961.9" fill="none" stroke="#c8c8c8" stroke-width="2.8"/>
<path d="M1459.1 55.8 V73.3 M1459.1 944.4 V961.9" fill="none" stroke="#343434" stroke-width="3.3"/>
<path d="M1576.3 63.8 V73.3 M1576.3 944.4 V953.9" fill="none" stroke="#c8c8c8" stroke-width="2.8"/>
<path d="M1579.3 63.8 V73.3 M1579.3 944.4 V953.9" fill="none" stroke="#343434" stroke-width="3.3"/>
<path d="M1696.4 55.8 V73.3 M1696.4 944.4 V961.9" fill="none" stroke="#c8c8c8" stroke-width="2.8"/>
<path d="M1699.4 55.8 V73.3 M1699.4 944.4 V961.9" fill="none" stroke="#343434" stroke-width="3.3"/>
<path d="M1816.5 63.8 V73.3 M1816.5 944.4 V953.9" fill="none" stroke="#c8c8c8" stroke-width="2.8"/>
<path d="M1819.5 63.8 V73.3 M1819.5 944.4 V953.9" fill="none" stroke="#343434" stroke-width="3.3"/>
<path d="M1936.6 55.8 V961.9" fill="none" stroke="#c8c8c8" stroke-width="2.8"/>
<path d="M1939.6 55.8 V961.9" fill="none" stroke="#343434" stroke-width="3.3"/>
<path d="M228.9 1223.4 H1975.3 M228.9 2092.5 H1975.3 M228.9 1397.2 H261.4 M1941.3 1397.2 H1975.3 M228.9 1571 H261.4 M1941.3 1571 H1975.3 M228.9 1744.9 H261.4 M1941.3 1744.9 H1975.3 M228.9 1918.7 H261.4 M1941.3 1918.7 H1975.3" fill="none" stroke="#363636" stroke-width="3"/>
<path d="M261.6 1205.9 V2110" fill="none" stroke="#808080" stroke-width="5.6"/>
<path d="M381.6 1213.9 V1223.4 M381.6 2092.5 V2102" fill="none" stroke="#808080" stroke-width="5.6"/>
<path d="M501.6 1205.9 V1223.4 M501.6 2092.5 V2110" fill="none" stroke="#808080" stroke-width="5.6"/>
<path d="M621.6 1213.9 V1223.4 M621.6 2092.5 V2102" fill="none" stroke="#808080" stroke-width="5.6"/>
<path d="M741.6 1205.9 V1223.4 M741.6 2092.5 V2110" fill="none" stroke="#808080" stroke-width="5.6"/>
<path d="M861.6 1213.9 V1223.4 M861.6 2092.5 V2102" fill="none" stroke="#808080" stroke-width="5.6"/>
<path d="M981.6 1205.9 V1223.4 M981.6 2092.5 V2110" fill="none" stroke="#808080" stroke-width="5.6"/>
<path d="M1098.9 1213.9 V1223.4 M1098.9 2092.5 V2102" fill="none" stroke="#a2a2a2" stroke-width="2.8"/>
<path d="M1101.8 1213.9 V1223.4 M1101.8 2092.5 V2102" fill="none" stroke="#5c5c5c" stroke-width="3.3"/>
<path d="M1218.6 1205.9 V1223.4 M1218.6 2092.5 V2110" fill="none" stroke="#c8c8c8" stroke-width="2.8"/>
<path d="M1221.6 1205.9 V1223.4 M1221.6 2092.5 V2110" fill="none" stroke="#343434" stroke-width="3.3"/>
<path d="M1338.6 1213.9 V1223.4 M1338.6 2092.5 V2102" fill="none" stroke="#c8c8c8" stroke-width="2.8"/>
<path d="M1341.6 1213.9 V1223.4 M1341.6 2092.5 V2102" fill="none" stroke="#343434" stroke-width="3.3"/>
<path d="M1458.6 1205.9 V1223.4 M1458.6 2092.5 V2110" fill="none" stroke="#c8c8c8" stroke-width="2.8"/>
<path d="M1461.6 1205.9 V1223.4 M1461.6 2092.5 V2110" fill="none" stroke="#343434" stroke-width="3.3"/>
<path d="M1578.6 1213.9 V1223.4 M1578.6 2092.5 V2102" fill="none" stroke="#c8c8c8" stroke-width="2.8"/>
<path d="M1581.6 1213.9 V1223.4 M1581.6 2092.5 V2102" fill="none" stroke="#343434" stroke-width="3.3"/>
<path d="M1698.6 1205.9 V1223.4 M1698.6 2092.5 V2110" fill="none" stroke="#c8c8c8" stroke-width="2.8"/>
<path d="M1701.6 1205.9 V1223.4 M1701.6 2092.5 V2110" fill="none" stroke="#343434" stroke-width="3.3"/>
<path d="M1818.6 1213.9 V1223.4 M1818.6 2092.5 V2102" fill="none" stroke="#c8c8c8" stroke-width="2.8"/>
<path d="M1821.6 1213.9 V1223.4 M1821.6 2092.5 V2102" fill="none" stroke="#343434" stroke-width="3.3"/>
<path d="M1938.6 1205.9 V2110" fill="none" stroke="#c8c8c8" stroke-width="2.8"/>
<path d="M1941.6 1205.9 V2110" fill="none" stroke="#343434" stroke-width="3.3"/>
</g>
</svg>
</body>
</html>
